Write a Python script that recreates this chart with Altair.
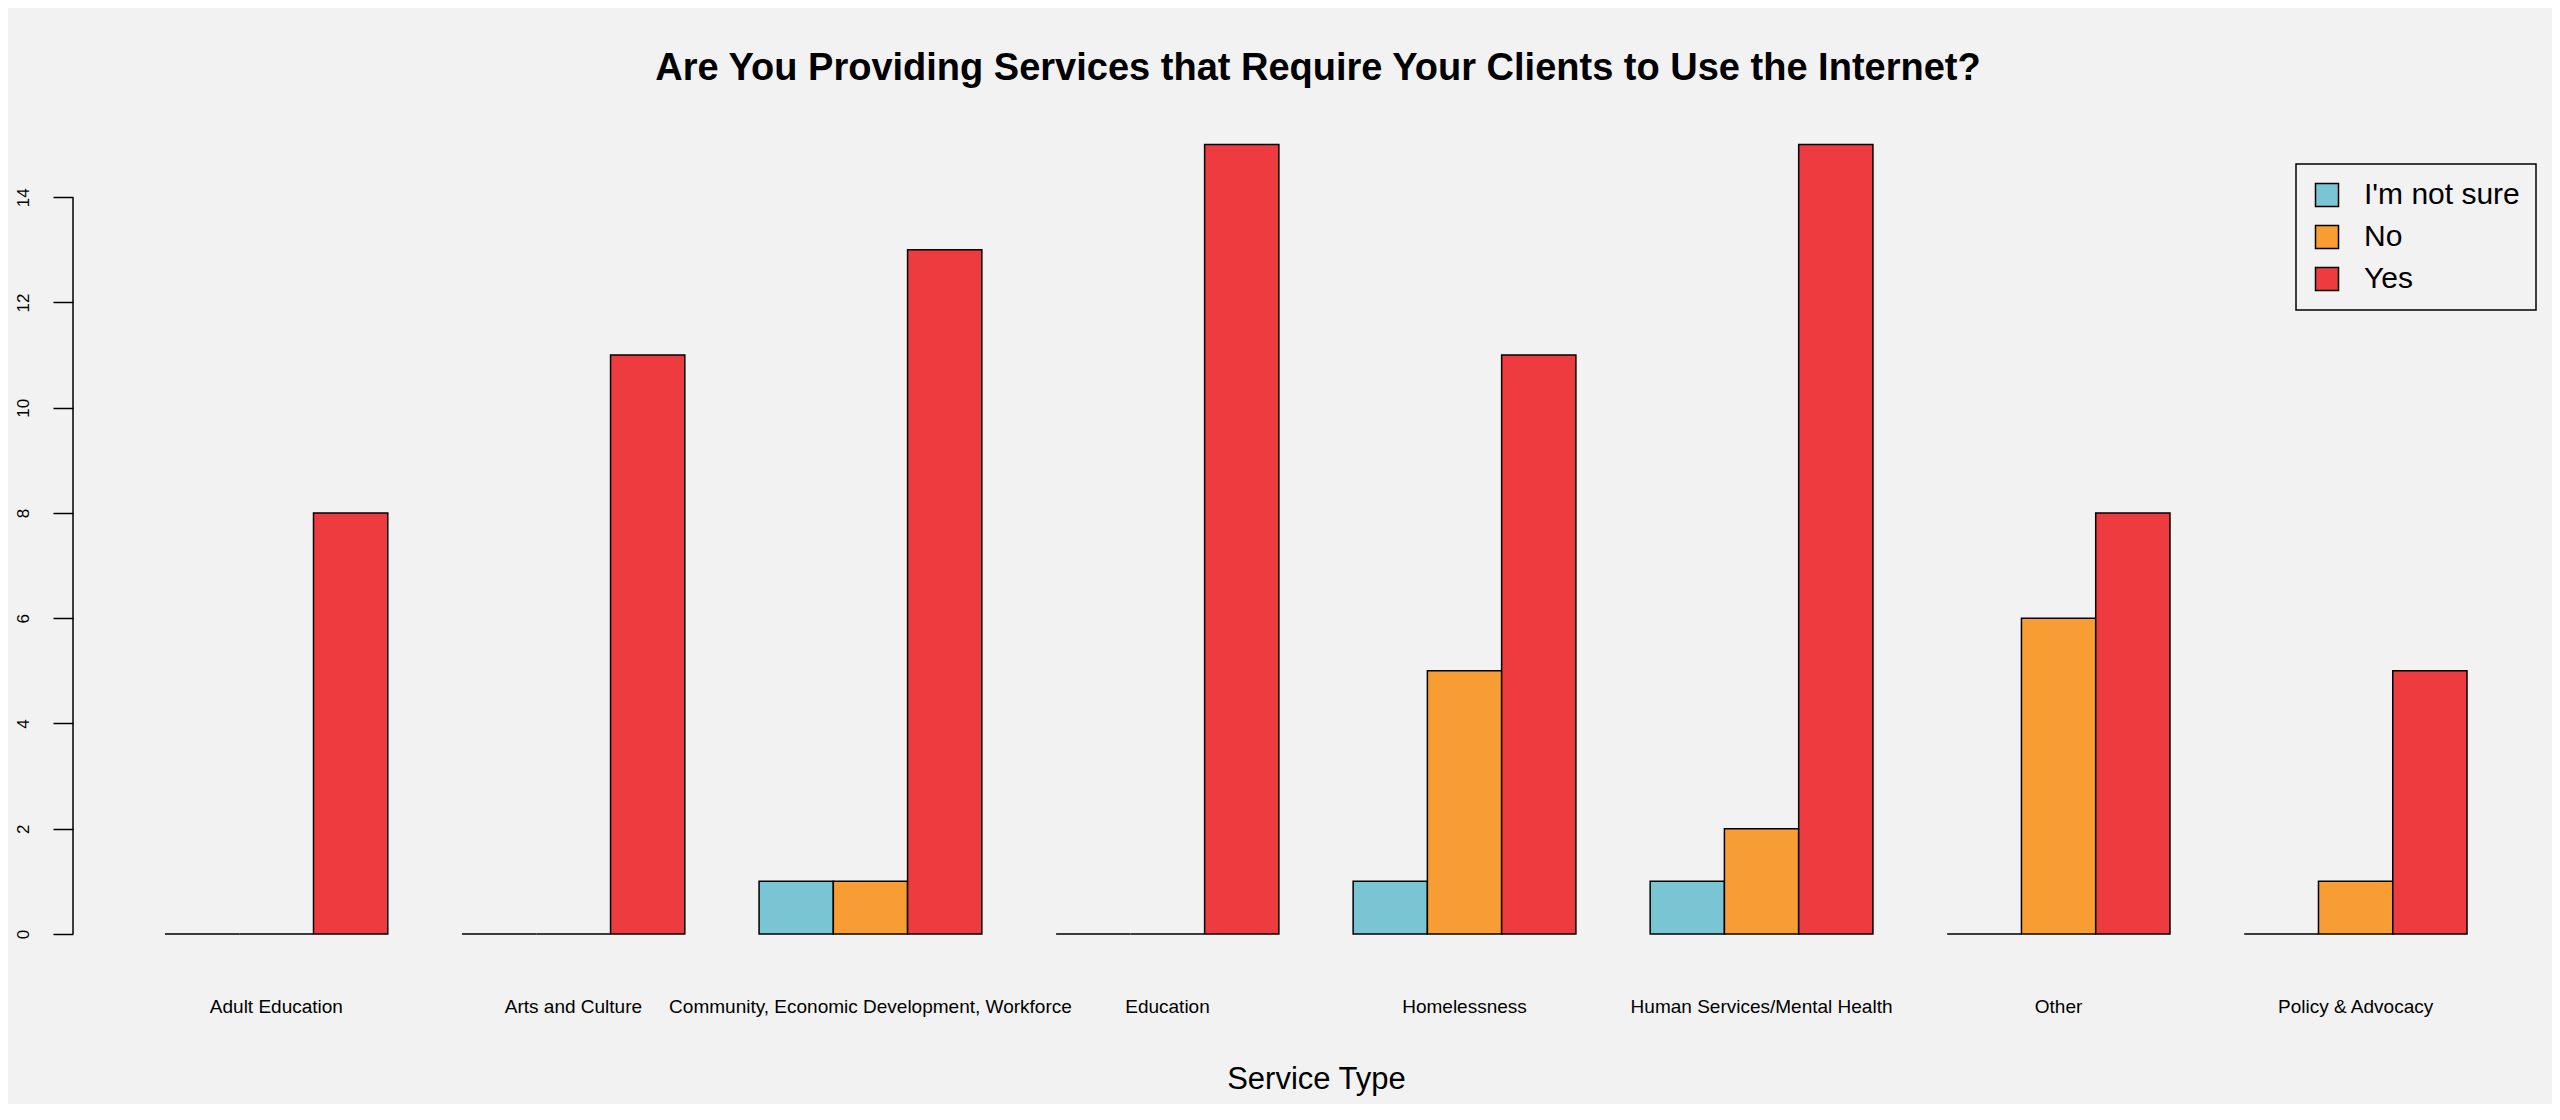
import altair as alt
import pandas as pd

categories = ["Adult Education", "Arts and Culture", "Community, Economic Development, Workforce",
              "Education", "Homelessness", "Human Services/Mental Health", "Other", "Policy & Advocacy"]
responses = ["I'm not sure", "No", "Yes"]
not_sure = [0, 0, 1, 0, 1, 1, 0, 0]
no = [0, 0, 1, 0, 5, 2, 6, 1]
yes = [8, 11, 13, 15, 11, 15, 8, 5]
colors = ["#7AC5D3", "#F89D33", "#EE3B40"]
y_ticks = [0, 2, 4, 6, 8, 10, 12, 14]

rows = []
for resp, vals in zip(responses, [not_sure, no, yes]):
    for c, v in zip(categories, vals):
        rows.append({"Service Type": c, "Response": resp, "Count": v})
df = pd.DataFrame(rows)

FONT = "Liberation Sans"
W, H = 2470, 821

bars = alt.Chart(df).mark_bar(stroke="black", strokeWidth=1.5, opacity=1).encode(
    x=alt.X("Service Type:N", sort=categories,
            scale=alt.Scale(range=[92, 2394], paddingInner=0.25, paddingOuter=0),
            axis=alt.Axis(title="Service Type", ticks=False, tickSize=0, domain=False, labelAngle=0,
                          labelFontSize=19, labelPadding=78, labelBaseline="alphabetic",
                          labelLimit=800, labelOverlap=False, labelColor="black",
                          titleFontSize=31, titleFontWeight="normal", titleBaseline="alphabetic",
                          titleY=154, titleColor="black")),
    xOffset=alt.XOffset("Response:N", sort=responses,
                        scale=alt.Scale(paddingInner=0, paddingOuter=0)),
    y=alt.Y("Count:Q", scale=alt.Scale(domain=[0, 15.6], nice=False, zero=True),
            axis=alt.Axis(values=y_ticks, title=None, grid=False, domain=False, tickSize=20,
                          tickWidth=1.5, tickColor="black", labelAngle=270, labelAlign="center",
                          labelBaseline="alphabetic", labelPadding=25, labelFontSize=17,
                          labelColor="black")),
    color=alt.Color("Response:N", sort=responses,
                    scale=alt.Scale(domain=responses, range=colors),
                    legend=alt.Legend(title=None, orient="none", legendX=2223, legendY=51,
                                      symbolType="square", symbolSize=529,
                                      symbolStrokeColor="black", symbolStrokeWidth=1.5,
                                      symbolOpacity=1,
                                      labelFontSize=30, labelOffset=22, rowPadding=12,
                                      padding=16, strokeColor="black", labelLimit=400,
                                      labelColor="black")),
)

axis_df = pd.DataFrame({"lo": [min(y_ticks)], "hi": [max(y_ticks)]})
axis_line = alt.Chart(axis_df).mark_rule(color="black", strokeWidth=1.5).encode(
    x=alt.value(0),
    y=alt.Y("lo:Q", title=None),
    y2="hi:Q",
)

chart = alt.layer(bars, axis_line).properties(
    width=W, height=H,
    title=alt.TitleParams("Are You Providing Services that Require Your Clients to Use the Internet?",
                          fontSize=38, fontWeight="bold", anchor="middle", baseline="alphabetic",
                          offset=23, dx=10, dy=28, color="black", font=FONT),
    padding={"left": 65, "top": 105, "right": 9, "bottom": 170},
    autosize=alt.AutoSizeParams(type="none"),
).configure(
    background="#F2F2F2", font=FONT
).configure_view(stroke=None).configure_legend(strokeWidth=1.5)

chart.save("out.html", embed_options={"renderer": "svg", "actions": False})
